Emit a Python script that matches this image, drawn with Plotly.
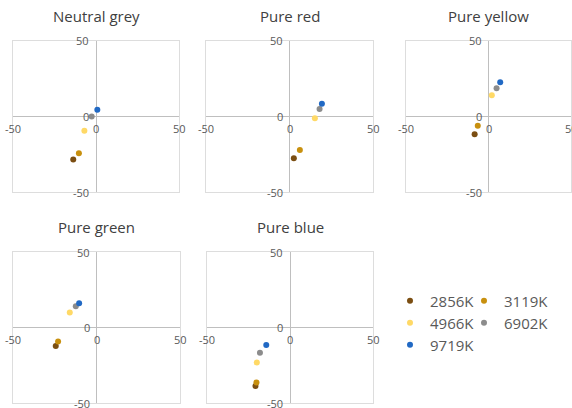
import plotly.graph_objects as go

W, H = 572, 408

temperatures = ["2856K", "3119K", "4966K", "6902K", "9719K"]
colors = ["#7B4E12", "#C8900E", "#FFD966", "#8C8C8C", "#2169C4"]

panel_titles = ["Neutral grey", "Pure red", "Pure yellow", "Pure green", "Pure blue"]

# a* (x) and b* (y) per panel, in temperature order
neutral_grey_a = [-13.7, -10.3, -7.0, -2.6, 0.8]
neutral_grey_b = [-28.4, -24.4, -9.5, 0.0, 4.4]
pure_red_a = [2.6, 6.2, 15.2, 18.0, 19.4]
pure_red_b = [-27.6, -22.2, -1.1, 4.9, 8.4]
pure_yellow_a = [-8.4, -6.5, 2.0, 4.9, 7.1]
pure_yellow_b = [-11.8, -6.2, 14.0, 18.7, 22.7]
pure_green_a = [-24.4, -23.0, -16.0, -12.4, -10.4]
pure_green_b = [-12.2, -9.3, 10.0, 14.0, 16.0]
pure_blue_a = [-20.8, -20.2, -20.0, -18.1, -14.3]
pure_blue_b = [-38.7, -36.4, -23.1, -16.7, -11.6]

axis_ticks = [-50, 0, 50]
axis_tick_labels = ["-50", "0", "50"]

panels_a = [neutral_grey_a, pure_red_a, pure_yellow_a, pure_green_a, pure_blue_a]
panels_b = [neutral_grey_b, pure_red_b, pure_yellow_b, pure_green_b, pure_blue_b]

# plot boxes in pixels: (left, right, top, bottom)
boxes = [(13, 179, 41, 192), (206, 373, 41, 192), (406, 571, 41, 192),
         (13, 180, 252, 403), (207, 373, 252, 403)]
title_y_px = [16, 16, 16, 227, 227]

# legend entry positions in pixels (left of entry, vertical centre)
legend_pos = [(390, 301), (464, 301), (390, 323), (464, 323), (390, 345)]
legend_names = ["legend", "legend2", "legend3", "legend4", "legend5"]

FONT = "Open Sans, Noto Sans, sans-serif"
TICK_COLOR = "#595959"

fig = go.Figure()
layout_axes = {}
annotations = []

for p in range(5):
    idx = "" if p == 0 else str(p + 1)
    xa, ya = "x" + idx, "y" + idx
    l, r, t, b = boxes[p]
    layout_axes["xaxis" + idx] = dict(
        domain=[l / W, r / W], range=[-50, 50], anchor=ya,
        showgrid=False, zeroline=True, zerolinecolor="#BFBFBF", zerolinewidth=1,
        showline=True, mirror=True, linecolor="#DDDDDD", linewidth=1,
        showticklabels=False, ticks="", fixedrange=True)
    layout_axes["yaxis" + idx] = dict(
        domain=[1 - b / H, 1 - t / H], range=[-50, 50], anchor=xa,
        showgrid=False, zeroline=True, zerolinecolor="#BFBFBF", zerolinewidth=1,
        showline=True, mirror=True, linecolor="#DDDDDD", linewidth=1,
        showticklabels=False, ticks="", fixedrange=True)

    for i, temp in enumerate(temperatures):
        fig.add_trace(go.Scatter(
            x=[panels_a[p][i]], y=[panels_b[p][i]], xaxis=xa, yaxis=ya,
            mode="markers", name=temp, legendgroup=temp,
            legend=legend_names[i], showlegend=(p == 0),
            marker=dict(color=colors[i], size=6, line=dict(width=0)),
            cliponaxis=False))

    # tick labels next to the zero-crossing axes
    for v, txt in zip(axis_ticks, axis_tick_labels):
        annotations.append(dict(xref=xa, yref=ya, x=v, y=0, text=txt,
                                showarrow=False, xanchor="center", yanchor="middle",
                                yshift=-12,
                                font=dict(family=FONT, size=11, color=TICK_COLOR)))
        annotations.append(dict(xref=xa, yref=ya, x=0, y=v, text=txt,
                                showarrow=False, xanchor="right", yanchor="middle",
                                xshift=-5,
                                font=dict(family=FONT, size=11, color=TICK_COLOR)))
    # panel title
    annotations.append(dict(xref="paper", yref="paper", x=(l + r) / 2 / W,
                            y=1 - title_y_px[p] / H, text=panel_titles[p],
                            showarrow=False, xanchor="center", yanchor="middle",
                            font=dict(family=FONT, size=15, color="#404040")))

legend_common = dict(orientation="h", xanchor="left", yanchor="middle",
                     bgcolor="rgba(0,0,0,0)", borderwidth=0, itemwidth=30,
                     font=dict(family=FONT, size=15, color=TICK_COLOR))
legends = {}
for name, (lx, ly) in zip(legend_names, legend_pos):
    legends[name] = dict(x=lx / W, y=1 - ly / H, **legend_common)

fig.update_layout(
    width=W, height=H,
    margin=dict(l=0, r=0, t=0, b=0),
    paper_bgcolor="white", plot_bgcolor="white",
    font=dict(family=FONT),
    annotations=annotations,
    **legends,
    **layout_axes)

fig.write_html("out.html", config={"displayModeBar": False},
               post_script="document.body.style.margin='0';")
